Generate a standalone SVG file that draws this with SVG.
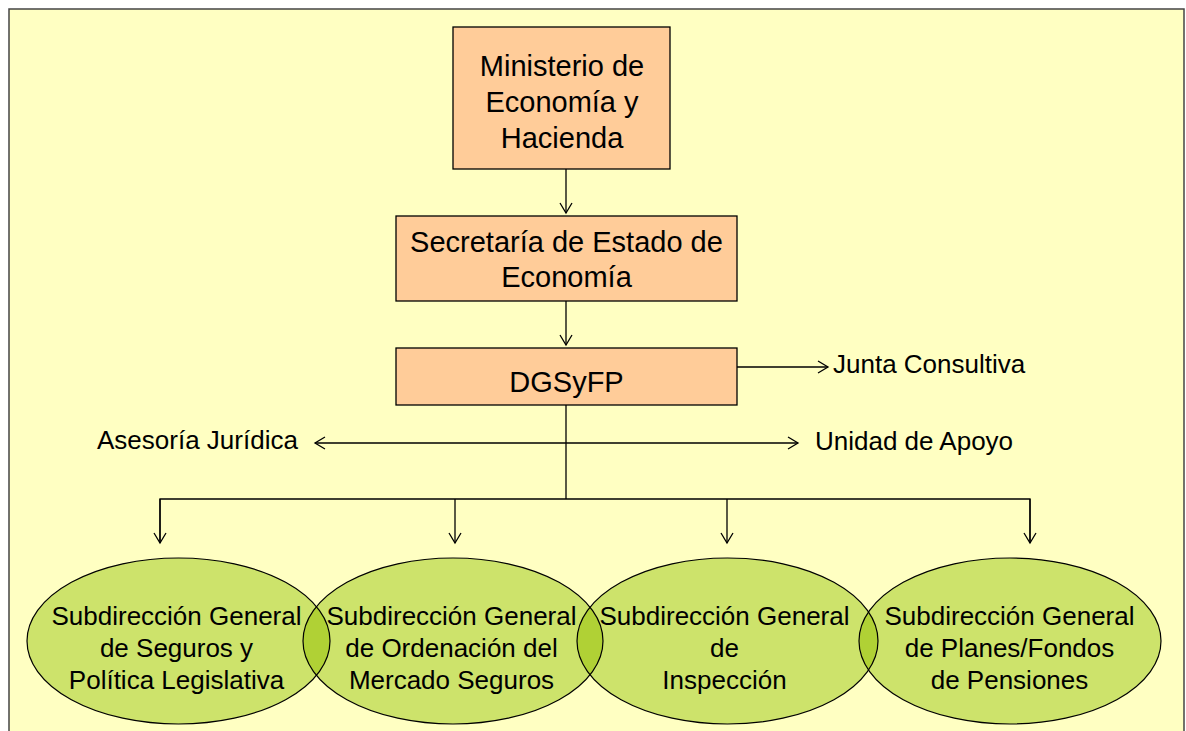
<svg xmlns="http://www.w3.org/2000/svg" width="1186" height="731" viewBox="0 0 1186 731">
<style>
.box{fill:#FFCC99;stroke:#000;stroke-width:1.3}
.ell{fill:#CDE36B}
.lens{fill:#B0D135}
.eo{fill:none;stroke:#000;stroke-width:1.2}
.t{font-family:"Liberation Sans",Arial,sans-serif;fill:#000}
.bt{font-size:29px;text-anchor:middle}
.et{font-size:26px;text-anchor:middle}
.lt{font-size:26px}
.c{fill:none;stroke:#000;stroke-width:1.3}
</style>
<defs>
<marker id="ah" markerUnits="userSpaceOnUse" markerWidth="16" markerHeight="16" viewBox="-12 -8 14 16" refX="0" refY="0" orient="auto">
<path d="M-10,-6 L0,0 L-10,6" fill="none" stroke="#000" stroke-width="1.3"/>
</marker>
<clipPath id="c1"><ellipse cx="178.5" cy="641" rx="151.5" ry="83"/></clipPath>
<clipPath id="c2"><ellipse cx="453" cy="641" rx="150" ry="83"/></clipPath>
<clipPath id="c3"><ellipse cx="727.5" cy="641" rx="150.5" ry="83"/></clipPath>
</defs>
<rect x="0" y="0" width="1186" height="731" fill="#fff"/>
<rect id="frame" x="9" y="9" width="1175" height="740" fill="#FFFFC2" stroke="#444" stroke-width="1.5"/>

<g id="connectors">
<line class="c" x1="566" y1="169" x2="566" y2="213" marker-end="url(#ah)"/>
<line class="c" x1="566" y1="301" x2="566" y2="345" marker-end="url(#ah)"/>
<line class="c" x1="737" y1="367" x2="828" y2="367" marker-end="url(#ah)"/>
<line class="c" x1="566" y1="443" x2="315" y2="443" marker-end="url(#ah)"/>
<line class="c" x1="566" y1="443" x2="798" y2="443" marker-end="url(#ah)"/>
<line class="c" x1="566" y1="405" x2="566" y2="499"/>
<polyline class="c" points="160,543 160,499 1030,499 1030,543"/>
<line class="c" x1="160" y1="499" x2="160" y2="543" marker-end="url(#ah)"/>
<line class="c" x1="455" y1="499" x2="455" y2="543" marker-end="url(#ah)"/>
<line class="c" x1="727" y1="499" x2="727" y2="543" marker-end="url(#ah)"/>
<line class="c" x1="1030" y1="499" x2="1030" y2="543" marker-end="url(#ah)"/>
</g>

<g id="ministerio">
<rect class="box" x="453" y="27" width="217" height="142"/>
<text class="t bt" x="562" y="76">Ministerio de</text>
<text class="t bt" x="562" y="112">Economía y</text>
<text class="t bt" x="562" y="148">Hacienda</text>
</g>
<g id="secretaria">
<rect class="box" x="396" y="216" width="341" height="85"/>
<text class="t bt" x="566.5" y="252">Secretaría de Estado de</text>
<text class="t bt" x="566.5" y="287">Economía</text>
</g>
<g id="dgsyfp">
<rect class="box" x="396" y="348" width="341" height="57"/>
<text class="t bt" x="566.5" y="392">DGSyFP</text>
</g>
<g id="junta"><text class="t lt" x="833" y="373">Junta Consultiva</text></g>
<g id="unidad"><text class="t lt" x="815" y="450">Unidad de Apoyo</text></g>
<g id="asesoria"><text class="t lt" x="97" y="449">Asesoría Jurídica</text></g>

<g id="ellipse-fills">
<ellipse class="ell" cx="178.5" cy="641" rx="151.5" ry="83"/>
<ellipse class="ell" cx="453" cy="641" rx="150" ry="83"/>
<ellipse class="ell" cx="727.5" cy="641" rx="150.5" ry="83"/>
<ellipse class="ell" cx="1010" cy="641" rx="151" ry="83"/>
<ellipse class="lens" cx="453" cy="641" rx="150" ry="83" clip-path="url(#c1)"/>
<ellipse class="lens" cx="727.5" cy="641" rx="150.5" ry="83" clip-path="url(#c2)"/>
<ellipse class="lens" cx="1010" cy="641" rx="151" ry="83" clip-path="url(#c3)"/>
</g>
<g id="sg1">
<ellipse class="eo" cx="178.5" cy="641" rx="151.5" ry="83"/>
<text class="t et" x="176.5" y="625">Subdirección General</text>
<text class="t et" x="176.5" y="657">de Seguros y</text>
<text class="t et" x="176.5" y="689">Política Legislativa</text>
</g>
<g id="sg2">
<ellipse class="eo" cx="453" cy="641" rx="150" ry="83"/>
<text class="t et" x="451.5" y="625">Subdirección General</text>
<text class="t et" x="451.5" y="657">de Ordenación del</text>
<text class="t et" x="451.5" y="689">Mercado Seguros</text>
</g>
<g id="sg3">
<ellipse class="eo" cx="727.5" cy="641" rx="150.5" ry="83"/>
<text class="t et" x="724.5" y="625">Subdirección General</text>
<text class="t et" x="724.5" y="657">de</text>
<text class="t et" x="724.5" y="689">Inspección</text>
</g>
<g id="sg4">
<ellipse class="eo" cx="1010" cy="641" rx="151" ry="83"/>
<text class="t et" x="1009.5" y="625">Subdirección General</text>
<text class="t et" x="1009.5" y="657">de Planes/Fondos</text>
<text class="t et" x="1009.5" y="689">de Pensiones</text>
</g>
</svg>
